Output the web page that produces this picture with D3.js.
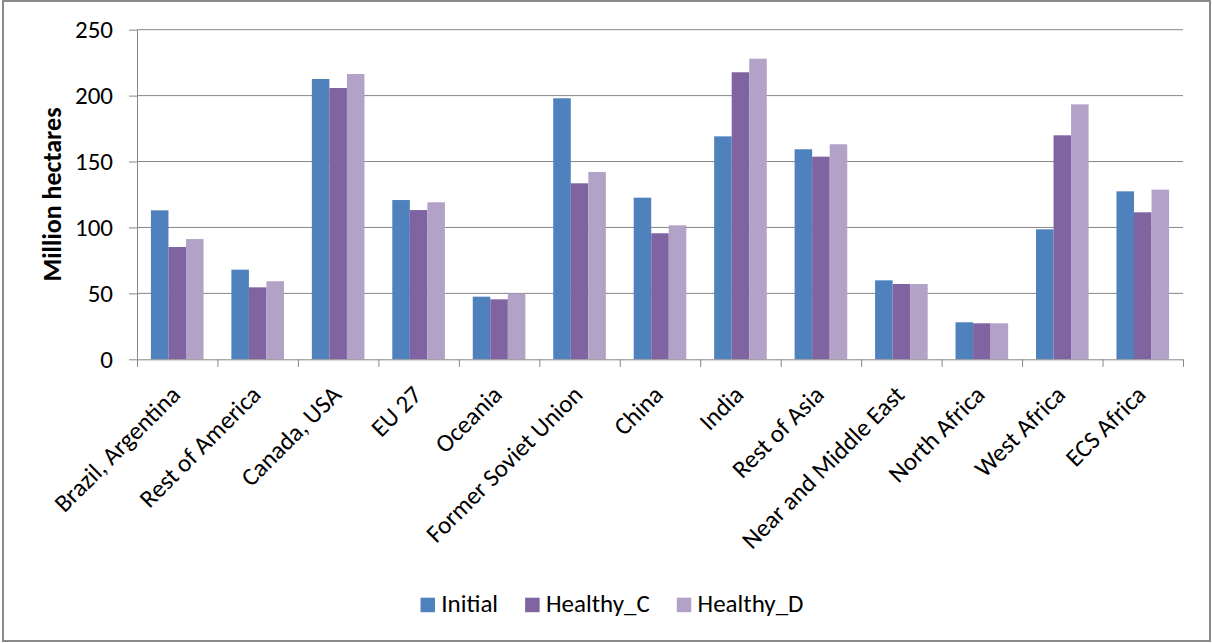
<!DOCTYPE html>
<html>
<head>
<meta charset="utf-8">
<script src="https://cdn.jsdelivr.net/npm/d3@7"></script>
<style>
  html, body { margin: 0; padding: 0; background: #fff; }
  svg { display: block; }
</style>
</head>
<body>
<svg id="chart" width="1212" height="643"></svg>
<script>
const categories = ["Brazil, Argentina", "Rest of America", "Canada, USA", "EU 27", "Oceania",
  "Former Soviet Union", "China", "India", "Rest of Asia", "Near and Middle East",
  "North Africa", "West Africa", "ECS Africa"];
const seriesNames = ["Initial", "Healthy_C", "Healthy_D"];
const initial  = [113.0, 68.0, 212.6, 120.8, 47.5, 198.0, 122.6, 169.1, 159.3, 59.9, 28.1, 98.6, 127.4];
const healthyC = [85.2, 54.6, 205.8, 113.2, 45.5, 133.5, 95.6, 217.7, 153.7, 57.1, 27.3, 169.9, 111.5];
const healthyD = [91.2, 59.2, 216.4, 119.1, 49.8, 142.1, 101.6, 228.0, 163.1, 57.1, 27.3, 193.4, 128.7];
const yTicks = [0, 50, 100, 150, 200, 250];
const yTitle = "Million hectares";
const colors = ["#4F81BD", "#8064A2", "#B3A2C7"];

(function () {
const seriesValues = [initial, healthyC, healthyD];
const svg = d3.select("#chart");
const FONT = "Carlito, Calibri, Lato, 'Open Sans', sans-serif";

function measure(text, size, weight) {
  const t = svg.append("text").attr("font-family", FONT).attr("font-size", size)
    .attr("font-weight", weight || "normal").text(text);
  const w = t.node().getComputedTextLength();
  t.remove();
  return w;
}
const fs = Math.min(25, 25 * 218 / measure("Near and Middle East", 25));
const fsTitle = Math.min(26, 26 * 175 / measure(yTitle, 26, "bold"));

// outer border
svg.append("rect").attr("x", 3).attr("y", 1).attr("width", 1207).attr("height", 640)
  .attr("fill", "#fff").attr("stroke", "#8a8a8a").attr("stroke-width", 2);

const pLeft = 137, pRight = 1183, pTop = 29.7, pBottom = 359.3;

const x = d3.scaleBand().domain(categories).range([pLeft, pRight])
  .paddingInner(0.346).paddingOuter(0.173);
const xs = d3.scaleBand().domain(seriesNames).range([0, x.bandwidth()]);
const y = d3.scaleLinear().domain([0, 250]).range([pBottom, pTop]);
const xb = d3.scaleLinear().domain([0, categories.length]).range([pLeft, pRight]);

// gridlines
svg.append("g").selectAll("line").data(yTicks.filter(d => d > 0)).join("line")
  .attr("x1", pLeft).attr("x2", pRight)
  .attr("y1", d => y(d)).attr("y2", d => y(d))
  .attr("stroke", "#868686").attr("stroke-width", 1);

// bars
const groups = svg.append("g").selectAll("g").data(seriesNames).join("g")
  .attr("fill", (d, i) => colors[i]);
groups.selectAll("rect").data((s, si) => categories.map((c, ci) => ({c, s, v: seriesValues[si][ci]})))
  .join("rect")
  .attr("x", d => x(d.c) + xs(d.s))
  .attr("width", xs.bandwidth())
  .attr("y", d => y(d.v))
  .attr("height", d => y(0) - y(d.v));

// y axis
const yAxis = svg.append("g").attr("transform", `translate(${pLeft},0)`)
  .call(d3.axisLeft(y).tickValues(yTicks).tickSize(8).tickPadding(16).tickSizeOuter(0));
yAxis.select(".domain").attr("stroke", "#868686");
yAxis.selectAll(".tick line").attr("stroke", "#868686");
yAxis.selectAll(".tick text").attr("font-family", FONT).attr("font-size", fs)
  .attr("fill", "#000");

// x axis boundary ticks
const xTickAxis = svg.append("g").attr("transform", `translate(0,${pBottom})`)
  .call(d3.axisBottom(xb).tickValues(d3.range(categories.length + 1)).tickFormat("")
    .tickSize(7.5).tickSizeOuter(0));
xTickAxis.select(".domain").attr("stroke", "#868686");
xTickAxis.selectAll(".tick line").attr("stroke", "#868686");

// x labels
const xAxis = svg.append("g").attr("transform", `translate(0,${pBottom})`)
  .call(d3.axisBottom(x).tickSize(0));
xAxis.select(".domain").remove();
xAxis.selectAll(".tick text")
  .attr("font-family", FONT).attr("font-size", fs).attr("fill", "#000")
  .attr("text-anchor", "end")
  .attr("x", 0).attr("y", 0).attr("dy", 0)
  .attr("transform", "translate(4.5,37) rotate(-45)");

// y title
svg.append("text")
  .attr("transform", `translate(61,${(pTop + pBottom) / 2}) rotate(-90)`)
  .attr("text-anchor", "middle")
  .attr("font-family", FONT).attr("font-size", fsTitle).attr("font-weight", "bold")
  .attr("fill", "#000").text(yTitle);

// legend
const sq = 14.5, gapSqText = 6.3, gapItems = 27;
const widths = seriesNames.map(n => measure(n, fs));
const total = d3.sum(widths) + seriesNames.length * (sq + gapSqText) + gapItems * (seriesNames.length - 1);
let cx = 612 - total / 2;
const legend = svg.append("g");
seriesNames.forEach((n, i) => {
  legend.append("rect").attr("x", cx).attr("y", 597.7).attr("width", sq).attr("height", sq)
    .attr("fill", colors[i]);
  legend.append("text").attr("x", cx + sq + gapSqText).attr("y", 612.3)
    .attr("font-family", FONT).attr("font-size", fs).attr("fill", "#000").text(n);
  cx += sq + gapSqText + widths[i] + gapItems;
});
})();
</script>
</body>
</html>
